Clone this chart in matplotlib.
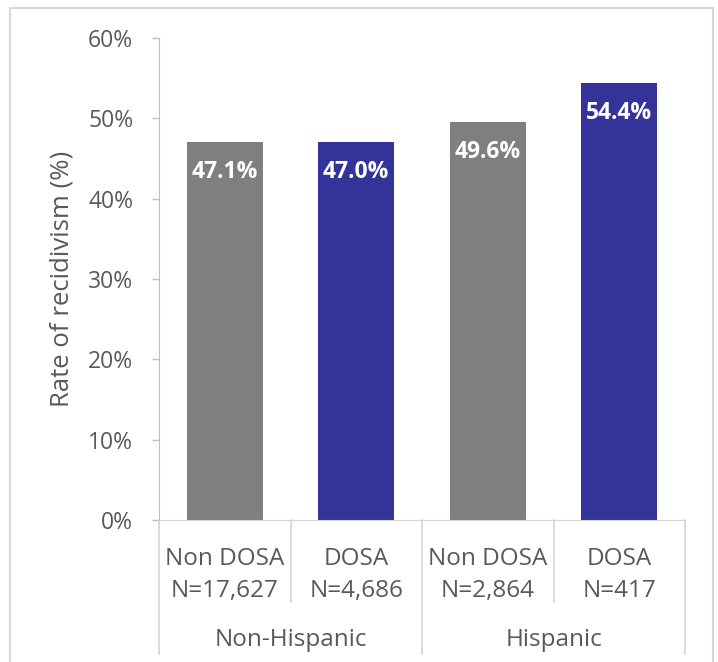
import matplotlib.pyplot as plt
from matplotlib.patches import Rectangle

# ============================================================
# Data
# ============================================================

groups = ["Non-Hispanic", "Hispanic"]
subgroups = ["Non DOSA", "DOSA", "Non DOSA", "DOSA"]
counts = ["N=17,627", "N=4,686", "N=2,864", "N=417"]
rates = [47.1, 47.0, 49.6, 54.4]
bar_colors = ["#7f7f7f", "#333399", "#7f7f7f", "#333399"]

yticks = [0, 10, 20, 30, 40, 50, 60]

# ============================================================
# Plot
# ============================================================

plt.rcParams["font.family"] = ["Open Sans", "DejaVu Sans"]
text_col = "#595959"
line_col = "#d4d4d4"

W, H = 718, 662
fig = plt.figure(figsize=(W / 100, H / 100), dpi=100)
ax = fig.add_axes([159 / W, 1 - 520 / H, (685 - 159) / W, (520 - 38) / H])

x = list(range(len(rates)))
ax.bar(x, rates, width=0.578, color=bar_colors)

for xi, r in zip(x, rates):
    ax.annotate(f"{r:.1f}%", (xi, r), xytext=(0, -30), textcoords="offset pixels",
                ha="center", va="center", color="white", fontsize=16.5, fontweight="bold")

ax.set_xlim(-0.5, 3.5)
ax.set_ylim(0, 60)
ax.set_yticks(yticks)
ax.set_yticklabels([f"{t}%" for t in yticks], fontsize=16.5, color=text_col)
ax.set_xticks([])
ax.tick_params(axis="y", length=5, color="#bfbfbf", width=1, pad=13.5)

for s in ["top", "right"]:
    ax.spines[s].set_visible(False)
ax.spines["left"].set_color("#bfbfbf")
ax.spines["bottom"].set_color(line_col)

fig.text(62 / W, 1 - 279 / H, "Rate of recidivism (%)", rotation=90,
         ha="center", va="center", fontsize=18.5, color=text_col)

# category separators below the axis
trans = ax.get_xaxis_transform()
px = 1 / 482.0
for xs in [-0.5, 1.5, 3.5]:
    ax.plot([xs, xs], [0, -134 * px], color=line_col, lw=1.2, transform=trans, clip_on=False)
for xs in [0.5, 2.5]:
    ax.plot([xs, xs], [0, -82 * px], color=line_col, lw=1.2, transform=trans, clip_on=False)

for xi, sub, n in zip(x, subgroups, counts):
    ax.text(xi, -45 * px, sub, transform=trans, ha="center", va="baseline", fontsize=17.5, color=text_col)
    ax.text(xi, -77 * px, n, transform=trans, ha="center", va="baseline", fontsize=17.5, color=text_col)

for gi, g in enumerate(groups):
    ax.text(gi * 2 + 0.5, -126 * px, g, transform=trans, ha="center", va="baseline", fontsize=17.5, color=text_col)

# chart frame
fig.patches.append(Rectangle((10 / W, -0.05), (713 - 10) / W, 1.05 - 8 / H,
                             transform=fig.transFigure, fill=False, edgecolor="#d9d9d9", lw=1.5))

fig.savefig("out.png", dpi=100)
